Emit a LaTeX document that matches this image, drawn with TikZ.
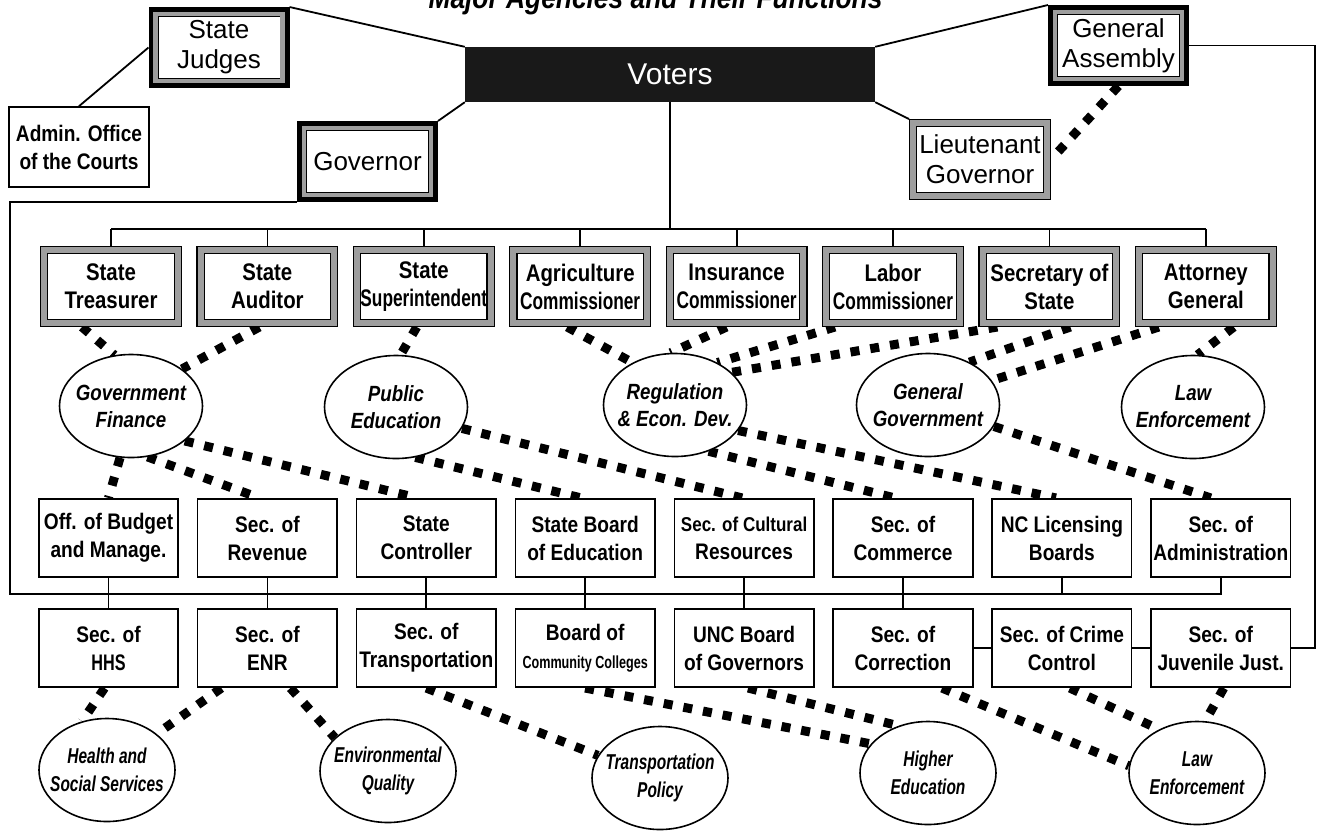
\documentclass[tikz,border=0pt]{standalone}
\usepackage{fontspec}
\setmainfont{Liberation Sans}
\newfontfamily\condA[FakeStretch=0.85]{Liberation Sans}
\newfontfamily\condB[FakeStretch=0.72]{Liberation Sans}
\usepackage{tikz}
\usetikzlibrary{shapes.geometric,backgrounds}
\definecolor{framegray}{gray}{0.62}
\newcommand{\nar}[1]{{\condB\bfseries #1}}

\tikzstyle{elected} = [rectangle, draw, line width=1.2pt, double=framegray, double distance=6pt,
    fill=white, minimum width=133.6pt, minimum height=72.6pt, inner sep=1pt, outer sep=4.2pt,
    align=center, font=\condA\bfseries\fontsize{24}{28}\selectfont]
\tikzstyle{chief} = [elected, preaction={draw, line width=14pt}, line width=0.8pt, double distance=4.4pt,
    outer sep=7pt, minimum width=127pt, minimum height=67pt, font=\fontsize{26}{30}\selectfont]
\tikzstyle{agency} = [rectangle, draw, line width=1.6pt, fill=white, minimum width=139.5pt,
    minimum height=78.5pt, inner sep=1pt, align=center, font=\condA\bfseries\fontsize{22.5}{28}\selectfont]
\tikzstyle{func} = [ellipse, draw, line width=1.6pt, fill=white, minimum width=143pt, minimum height=103pt,
    inner xsep=-25pt, inner ysep=0pt, align=center, font=\condA\bfseries\itshape\fontsize{22}{27}\selectfont]
\tikzstyle{func2} = [func, minimum width=136pt, font=\condB\bfseries\itshape\fontsize{21.5}{28}\selectfont]
\tikzstyle{voters} = [rectangle, fill=black!90, text=white, minimum width=410pt, minimum height=55pt,
    font=\fontsize{30}{32}\selectfont]
\tikzstyle{heading} = [font=\condA\bfseries\itshape\fontsize{31}{33}\selectfont]
\tikzstyle{link} = [line width=1.8pt]
\tikzstyle{dots} = [line width=9pt, dash pattern=on 9pt off 11pt]

\begin{document}
\begin{tikzpicture}[x=1pt, y=-1pt]
    \useasboundingbox (0,0) rectangle (1318,831);
    \clip (0,0) rectangle (1318,831);

    \node[heading, anchor=base] (title) at (655.5,8) {Major Agencies and Their Functions};

    % elected at the top
    \node[voters] (voters) at (670,74.5) {Voters};
    \node[chief] (judges) at (219,47.5) {State\\Judges};
    \node[agency, minimum width=140pt, minimum height=80pt] (aoc) at (79,147) {Admin. Office\\of the Courts};
    \node[chief] (gov) at (367.5,161.5) {Governor};
    \node[chief] (ga) at (1118.5,45.5) {General\\Assembly};
    \node[elected, font=\fontsize{26}{30}\selectfont] (ltgov) at (980,159.5) {Lieutenant\\Governor};

    \foreach \nm/\txt [count=\i from 0] in {treas/{State\\Treasurer}, aud/{State\\Auditor},
        sup/{State\\\nar{Superintendent}}, agr/{Agriculture\\\nar{Commissioner}},
        ins/{Insurance\\\nar{Commissioner}}, lab/{Labor\\\nar{Commissioner}},
        sos/{Secretary of\\State}, atty/{Attorney\\General}}
        \node[elected] (\nm) at (111+156.4*\i,286.5) {\txt};

    % functions
    \node[func] (gfin) at (131,406) {Government\\Finance};
    \node[func] (pubed) at (396,407) {Public\\Education};
    \node[func] (reg) at (675,405) {Regulation\\\& Econ. Dev.};
    \node[func] (gengov) at (928,405) {General\\Government};
    \node[func] (law) at (1193,407) {Law\\Enforcement};

    % appointed
    \foreach \nm/\txt [count=\i from 0] in {obm/{Off. of Budget\\and Manage.}, rev/{Sec. of\\Revenue},
        ctrl/{State\\Controller}, sbe/{State Board\\of Education},
        scr/{\fontsize{20}{26}\selectfont Sec. of Cultural\\Resources}, com/{Sec. of\\Commerce},
        lic/{NC Licensing\\Boards}, adm/{Sec. of\\Administration}}
        \node[agency] (\nm) at (108.5+158.9*\i,538) {\txt};

    \foreach \nm/\txt [count=\i from 0] in {hhs/{Sec. of\\\nar{HHS}}, enr/{Sec. of\\ENR},
        dot/{Sec. of\\Transportation}, bcc/{Board of\\{\fontsize{17.5}{20}\selectfont\nar{Community Colleges}}},
        unc/{UNC Board\\of Governors}, doc/{Sec. of\\Correction},
        ccps/{Sec. of Crime\\Control}, djj/{Sec. of\\Juvenile Just.}}
        \node[agency] (\nm) at (108.5+158.9*\i,648) {\txt};

    \node[func2] (hss) at (107,770) {Health and\\Social Services};
    \node[func2] (envq) at (388,771) {Environmental\\Quality};
    \node[func2] (tpol) at (660,778) {Transportation\\Policy};
    \node[func2] (hied) at (928,773) {Higher\\Education};
    \node[func2] (law2) at (1197,773) {Law\\Enforcement};

    \begin{scope}[on background layer]
        \coordinate (top) at (670,229);
        \coordinate (bus) at (10,594);

        \draw[link] (judges.north east) -- (voters.north west);
        \draw[link] (judges.west) -- (aoc.north);
        \draw[link] (gov.north east) -- (voters.south west);
        \draw[link] (voters.north east) -- (ga.north west);
        \draw[link] (voters.south east) -- (ltgov.north west);
        \draw[link] (ga.east) -- ++(126,0) |- (djj.east);
        \draw[link] (gov.south west) -| (bus) -| (adm.south);

        \draw[link] (voters.south) -- (top);
        \draw[link] (treas.north |- top) -- (atty.north |- top);
        \foreach \nm in {treas,aud,sup,agr,ins,lab,sos,atty}
            \draw[link] (\nm.north) -- (\nm.north |- top);

        \foreach \a/\b in {obm/hhs, rev/enr, ctrl/dot, sbe/bcc, scr/unc, com/doc}
            \draw[link] (\a.south) -- (\b.north);
        \draw[link] (lic.south) -- (lic.south |- bus);
        \draw[link] (doc.east) -- (ccps.west);
        \draw[link] (ccps.east) -- (djj.west);

        % who does what
        \draw[dots] (ga.south) -- (ltgov.east);

        \draw[dots] ([xshift=-29pt]treas.south) -- (gfin.108);
        \draw[dots] ([xshift=-8pt]aud.south) -- (gfin.36);
        \draw[dots] ([xshift=-7pt]sup.south) -- (pubed.85);
        \draw[dots] ([xshift=-13pt]agr.south) -- (reg.135);
        \draw[dots] ([xshift=-10pt]ins.south) -- (reg.95);
        \draw[dots] ([xshift=-58pt]lab.south) -- (reg.45);
        \draw[dots] ([xshift=-52pt]sos.south) -- (reg.30);
        \draw[dots] ([xshift=21pt]sos.south) -- (gengov.46);
        \draw[dots] ([xshift=-47pt]atty.south) -- (gengov.21);
        \draw[dots] ([xshift=28pt]atty.south) -- (law.85);

        \draw[dots] (gfin.258) -- (obm.north);
        \draw[dots] (gfin.288) -- ([xshift=-8pt]rev.north);
        \draw[dots] (gfin.327) -- ([xshift=-9pt]ctrl.north);
        \draw[dots] (pubed.291) -- ([xshift=-4pt]sbe.north);
        \draw[dots] (pubed.342) -- ([xshift=-2pt]scr.north);
        \draw[dots] (reg.306) -- ([xshift=-8pt]com.north);
        \draw[dots] (reg.338) -- ([xshift=-6pt]lic.north);
        \draw[dots] (gengov.342) -- ([xshift=-10pt]adm.north);

        \draw[dots] ([xshift=-4pt]hhs.south) -- (hss.117);
        \draw[dots] ([xshift=-46pt]enr.south) -- (hss.36);
        \draw[dots] ([xshift=23pt]enr.south) -- (envq.148);
        \draw[dots] (dot.south) -- (tpol.160);
        \draw[dots] (bcc.south) -- (hied.153);
        \draw[dots] ([xshift=4pt]unc.south) -- (hied.122);
        \draw[dots] ([xshift=39pt]doc.south) -- (law2.174);
        \draw[dots] ([xshift=8pt]ccps.south) -- (law2.131);
        \draw[dots] ([xshift=3pt]djj.south) -- (law2.81);
    \end{scope}
\end{tikzpicture}
\end{document}
